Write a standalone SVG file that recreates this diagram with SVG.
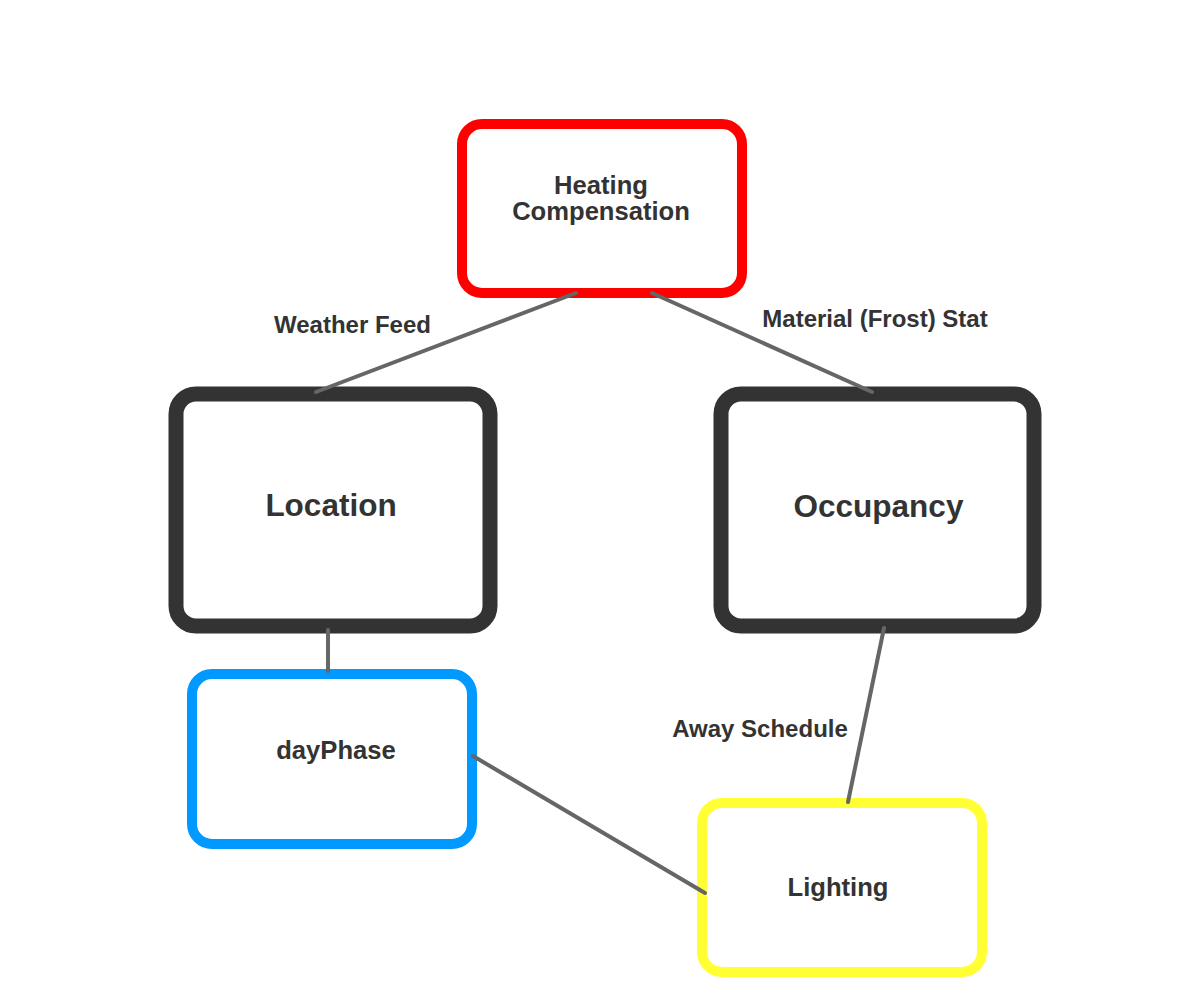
<svg xmlns="http://www.w3.org/2000/svg" width="1200" height="1000" viewBox="0 0 1200 1000">
<style>
  .node { fill: #ffffff; }
  .t { font-family: "Liberation Sans", Arial, sans-serif; font-weight: bold; fill: #333333; text-anchor: middle; }
  .sm { font-size: 25.6px; }
  .lg { font-size: 31.5px; }
  .lbl { font-size: 24px; }
  .edge { stroke: #666666; stroke-width: 4; stroke-linecap: round; fill: none; }
</style>
<rect width="1200" height="1000" fill="#ffffff"/>
<g id="heating-compensation">
  <rect class="node" x="462" y="124" width="280" height="169" rx="20" stroke="#ff0000" stroke-width="10"/>
  <text class="t sm" x="601" y="194">Heating</text>
  <text class="t sm" x="601" y="220">Compensation</text>
</g>
<g id="location">
  <rect class="node" x="176" y="394" width="314" height="232" rx="20" stroke="#333333" stroke-width="15"/>
  <text class="t lg" x="331" y="516">Location</text>
</g>
<g id="occupancy">
  <rect class="node" x="721" y="394" width="313" height="232" rx="20" stroke="#333333" stroke-width="15"/>
  <text class="t lg" x="878.5" y="517">Occupancy</text>
</g>
<g id="dayphase">
  <rect class="node" x="192" y="674" width="280" height="170" rx="20" stroke="#0099ff" stroke-width="10"/>
  <text class="t sm" x="336" y="759">dayPhase</text>
</g>
<g id="lighting">
  <rect class="node" x="702" y="803" width="280" height="169" rx="20" stroke="#ffff33" stroke-width="10"/>
  <text class="t sm" x="838" y="896">Lighting</text>
</g>
<g id="connectors">
  <line class="edge" x1="576" y1="293" x2="316" y2="392"/>
  <line class="edge" x1="652" y1="293" x2="872" y2="392"/>
  <line class="edge" x1="328" y1="630" x2="328" y2="671"/>
  <line class="edge" x1="473" y1="756" x2="705" y2="893"/>
  <line class="edge" x1="884" y1="628" x2="848" y2="802"/>
  <text class="t lbl" x="352.5" y="333">Weather Feed</text>
  <text class="t lbl" x="875" y="327">Material (Frost) Stat</text>
  <text class="t lbl" x="760" y="737">Away Schedule</text>
</g>
</svg>
